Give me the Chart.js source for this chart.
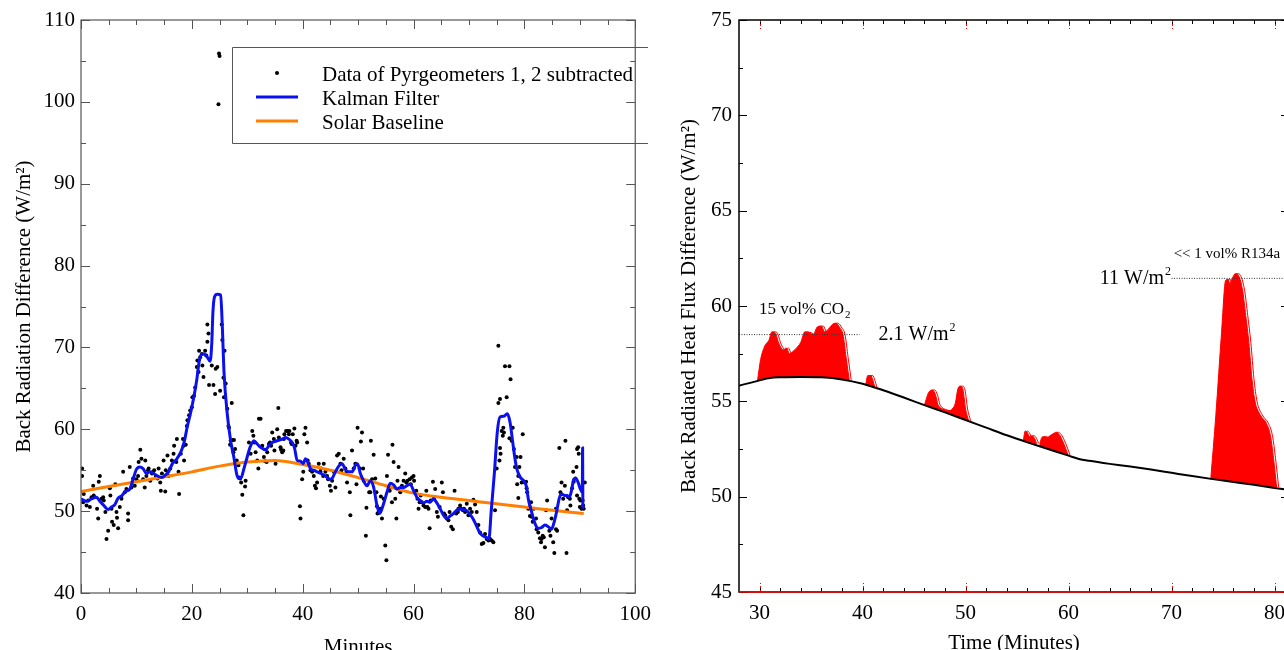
<!DOCTYPE html>
<html>
<head>
<meta charset="utf-8">
<title>Back radiation difference</title>
<script src="https://cdn.jsdelivr.net/npm/chart.js@4.4.1/dist/chart.umd.min.js"></script>
<style>
  html, body { margin: 0; padding: 0; background: #fff; overflow: hidden; }
  #leftBox { position: absolute; left: 0; top: 0; width: 660px; height: 670px; }
  #rightBox { position: absolute; left: 660px; top: 0; width: 640px; height: 670px; }
</style>
</head>
<body>
<div id="leftBox"><canvas id="radiationChart"></canvas></div>
<div id="rightBox"><canvas id="fluxChart"></canvas></div>
<script>
// ---- left panel: pyrgeometer difference ----
const minutesTicks = [0, 20, 40, 60, 80, 100];
const minutesMinor = [5, 10, 15, 25, 30, 35, 45, 50, 55, 65, 70, 75, 85, 90, 95];
const radiationTicks = [40, 50, 60, 70, 80, 90, 100, 110];
const radiationMinor = [45, 55, 65, 75, 85, 95, 105];

// raw points [minute, W/m2]
const pyrgeoPoints = [
  [0.2,55.2],[0.2,54.3],[0.5,52.1],[0.4,51.1],[1.0,50.7],[1.3,51.3],[1.6,50.5],[1.9,51.7],[2.2,53.1],[2.3,51.9],
  [2.9,50.3],[3.1,49.1],[3.2,53.6],[3.4,54.3],[3.7,51.5],[4.0,51.7],[4.1,51.3],[4.4,49.9],[4.6,46.6],[4.9,47.6],
  [5.2,52.8],[5.3,51.9],[5.5,50.3],[5.6,48.7],[5.9,48.3],[6.2,53.3],[6.4,49.9],[6.5,49.2],[6.7,47.9],[7.0,50.5],
  [7.3,51.5],[7.6,54.8],[7.9,52.3],[8.2,52.7],[8.5,49.7],[8.5,48.9],[8.8,55.4],[9.1,52.9],[9.2,53.5],[9.4,54.0],
  [9.7,53.1],[10.0,53.9],[10.3,54.3],[10.4,56.0],[10.7,57.5],[10.9,56.4],[11.2,53.9],[11.5,52.9],[11.6,56.2],[11.8,54.3],
  [12.1,55.0],[12.2,55.2],[12.5,53.7],[12.8,54.6],[13.0,54.8],[13.2,55.0],[13.5,54.3],[13.8,54.0],[14.0,55.2],[14.3,53.5],
  [14.4,52.5],[14.6,54.6],[14.9,56.2],[15.2,52.4],[15.3,55.0],[15.6,56.8],[15.8,54.3],[16.1,55.2],[16.4,56.2],[16.7,57.0],
  [16.8,58.0],[17.2,56.0],[17.3,58.8],[17.6,54.8],[17.7,52.1],[18.0,57.0],[18.4,58.8],[18.5,58.0],[18.6,56.2],[18.9,58.1],
  [19.1,60.4],[19.2,61.1],[19.5,61.7],[19.7,62.3],[20.0,62.7],[20.1,63.9],[20.4,64.1],[20.6,65.1],[20.9,67.6],[21.0,68.4],
  [21.2,67.0],[21.3,69.6],[21.5,68.8],[21.8,69.2],[21.9,67.8],[22.1,66.4],[22.4,69.6],[22.6,69.0],[22.8,70.7],[23.0,71.7],
  [23.1,65.4],[22.8,72.8],[23.6,67.8],[23.9,65.4],[24.2,64.3],[24.3,67.4],[24.9,105.9],[25.0,105.6],[24.8,99.7],
  [24.6,67.6],[25.4,72.8],[25.5,70.9],[25.9,69.6],[25.7,66.3],[26.1,65.6],[25.1,64.7],[25.8,63.9],[26.4,62.5],[27.2,63.2],
  [26.6,60.4],[26.7,60.2],[26.9,58.1],[27.0,58.6],[27.3,58.7],[27.6,58.7],[27.5,57.2],[27.8,57.6],[28.1,56.2],[28.4,55.6],
  [28.5,54.1],[28.7,54.0],[28.9,53.5],[29.1,52.0],[29.3,49.5],[29.7,53.7],[29.6,53.0],[30.3,58.4],[30.6,57.0],[30.9,59.8],
  [31.1,59.2],[31.3,58.4],[31.5,57.2],[31.8,56.2],[32.0,55.2],[32.1,61.3],[32.4,61.3],[32.7,58.0],[33.0,56.6],[33.2,56.1],
  [33.5,56.0],[33.6,57.2],[33.9,58.2],[34.1,58.4],[34.3,58.0],[34.5,59.6],[34.8,58.8],[34.9,57.4],[35.1,55.8],[35.4,60.0],
  [35.6,62.6],[35.7,59.0],[36.0,57.8],[36.1,57.5],[36.3,57.2],[36.5,57.4],[36.6,58.8],[36.7,59.4],[37.0,59.8],[37.3,59.8],
  [37.5,59.4],[37.6,59.8],[37.9,58.4],[38.0,58.2],[38.2,59.4],[38.5,60.1],[38.7,58.0],[38.9,58.6],[39.0,58.4],[39.5,50.6],
  [39.6,49.1],[40.1,54.8],[39.9,53.9],[40.3,59.4],[40.5,60.2],[40.8,58.4],[40.9,56.2],[41.1,55.8],[41.4,55.0],[41.7,54.8],
  [42.0,54.3],[42.2,53.1],[42.4,52.8],[42.6,53.5],[42.9,55.8],[43.2,54.8],[43.3,55.2],[43.7,54.3],[43.8,55.8],[44.1,54.8],
  [44.4,54.3],[44.6,53.9],[44.9,53.1],[45.1,52.5],[45.3,53.7],[45.6,54.8],[45.9,52.9],[46.2,56.8],[46.5,57.0],[46.8,55.8],
  [47.0,55.0],[47.4,56.4],[47.7,55.2],[47.9,54.8],[48.0,53.5],[48.5,52.3],[48.6,49.5],[48.9,57.4],[49.2,55.2],[49.5,55.8],
  [49.7,53.3],[49.9,60.2],[50.7,59.6],[50.5,58.5],[50.3,55.2],[50.9,55.2],[51.0,53.7],[51.5,50.4],[51.4,47.0],[52.0,52.3],
  [52.2,52.3],[52.3,58.6],[52.5,53.9],[52.8,56.9],[53.1,54.0],[53.3,52.3],[53.4,50.6],[53.5,49.7],[53.7,49.9],[54.0,50.3],
  [54.1,51.8],[54.3,49.1],[54.6,51.5],[54.9,45.8],[55.1,44.0],[55.2,54.3],[55.4,56.9],[55.7,52.5],[55.8,52.9],[56.1,51.1],
  [56.2,58.1],[56.4,56.0],[56.7,51.5],[56.9,49.1],[57.1,53.7],[57.3,55.4],[57.6,52.3],[57.9,53.1],[58.2,53.7],[58.5,54.6],
  [58.7,53.5],[58.9,53.7],[59.3,53.9],[59.5,53.3],[59.7,54.1],[60.0,54.3],[60.1,53.7],[60.5,52.5],[60.7,51.5],[60.9,50.3],
  [61.1,51.1],[61.3,51.9],[61.5,51.1],[61.8,50.7],[62.1,50.5],[62.3,52.5],[62.5,50.5],[62.7,50.3],[62.9,47.9],[63.1,51.3],
  [63.5,53.6],[63.7,51.5],[63.9,52.7],[64.2,49.9],[64.4,49.3],[64.7,50.5],[65.1,53.5],[65.3,52.3],[65.5,49.7],[65.7,49.5],
  [66.0,49.1],[66.3,48.9],[66.5,49.9],[66.8,48.1],[67.1,47.8],[67.4,52.5],[67.7,49.7],[68.0,49.9],[68.1,50.3],[68.4,50.7],
  [68.6,50.3],[68.9,50.1],[69.1,50.3],[69.3,49.9],[69.6,50.9],[69.9,49.5],[70.2,50.3],[70.5,49.9],[70.8,51.4],[71.1,50.8],
  [71.4,49.9],[71.7,48.3],[72.0,47.4],[72.3,46.0],[72.6,46.1],[72.9,47.2],[73.2,46.6],[73.5,46.4],[73.8,46.6],[74.1,46.4],
  [74.4,46.2],[74.7,50.1],[75.0,55.2],[75.3,70.2],[75.3,63.2],[75.6,63.7],[76.5,67.7],[77.3,67.7],[77.5,66.1],[76.8,63.9],
  [75.9,59.8],[76.3,59.6],[76.2,60.2],[76.1,59.2],[75.6,57.7],[75.7,57.0],[75.5,56.2],[77.3,58.9],[77.7,58.6],[77.9,60.2],
  [78.1,57.6],[78.3,55.4],[78.6,56.6],[78.9,54.3],[78.7,53.3],[79.1,55.4],[78.9,51.6],[79.3,56.6],[79.7,59.4],[79.5,53.5],
  [79.8,53.6],[80.1,53.5],[80.3,53.6],[80.4,52.8],[80.5,52.3],[80.7,50.3],[81.0,50.5],[81.2,51.1],[81.0,49.4],[81.3,49.3],
  [81.5,48.7],[81.7,50.3],[82.1,49.1],[82.2,47.8],[82.5,47.4],[82.8,46.7],[83.0,46.2],[83.1,46.6],[83.3,47.0],[83.5,46.8],
  [83.7,45.6],[83.9,50.1],[84.1,51.3],[84.5,47.6],[84.7,47.0],[84.9,49.1],[85.2,46.2],[85.4,44.9],[85.7,47.8],[85.9,47.6],
  [85.7,50.3],[86.3,57.7],[86.5,52.3],[86.7,53.5],[87.0,51.5],[87.3,53.1],[87.4,58.6],[87.6,44.9],[87.7,50.1],[87.9,51.7],
  [88.2,51.5],[88.3,50.7],[88.6,52.8],[88.8,54.8],[88.9,53.6],[89.2,54.0],[89.4,55.4],[89.5,57.6],[89.7,57.8],[89.8,57.0],
  [89.5,51.9],[89.9,51.5],[90.0,50.5],[90.1,51.3],[90.3,50.3],[90.5,51.3],[90.6,50.7],[90.9,53.5],[90.7,50.3]
];

const kalmanMinutes = [
  0, 1.0, 1.9, 2.8, 3.4, 4.1, 4.9, 5.5, 6.1, 6.7, 7.4, 8.0, 8.8, 9.4, 10.0, 10.6, 11.2, 11.8, 12.4, 13.1,
  13.8, 14.6, 15.2, 15.8, 16.5, 17.3, 18.0, 18.6, 19.2, 19.8, 20.4, 20.9, 21.3, 21.8, 22.2, 22.8, 23.3, 23.6, 23.8, 24.1,
  24.6, 25.2, 25.5, 25.8, 26.4, 27.0, 27.6, 28.1, 28.5, 28.9, 29.4, 29.9, 30.5, 31.2, 31.8, 32.4, 33.3, 33.9, 34.5, 35.4,
  36.3, 36.9, 37.5, 38.1, 38.5, 39.0, 39.6, 40.1, 40.5, 40.9, 41.4, 42.0, 42.6, 43.3, 44.1, 44.9, 45.3, 45.9, 46.5, 47.1,
  47.7, 48.3, 48.9, 49.5, 49.9, 50.4, 51.0, 51.6, 52.2, 52.8, 53.4, 53.9, 54.5, 55.2, 55.8, 56.4, 57.0, 57.6, 58.2, 58.8,
  59.4, 60.0, 60.6, 61.2, 61.8, 62.4, 63.0, 63.6, 64.2, 64.8, 65.4, 66.0, 66.6, 67.2, 67.8, 68.4, 68.9, 69.5, 70.1, 70.7,
  71.3, 71.9, 72.5, 73.1, 73.6, 74.0, 74.6, 75.1, 75.6, 76.3, 76.9, 77.4, 77.9, 78.3, 78.7, 79.3, 79.9, 80.4, 80.7, 81.3,
  81.9, 82.5, 83.1, 83.7, 84.3, 84.9, 85.3, 85.8, 86.3, 86.7, 87.3, 87.7, 88.1, 88.5, 88.9, 89.3, 89.7, 90.1, 90.45, 90.5,
  90.55
];
const kalmanValues = [
  51.5, 51.2, 51.5, 51.7, 51.2, 50.7, 50.2, 50.5, 50.8, 51.6, 51.9, 52.4, 52.7, 53.9, 55.1, 55.4, 55.2, 54.6, 54.8, 54.6,
  54.3, 54.1, 54.4, 54.8, 55.8, 56.4, 57.2, 58.4, 60.4, 62.1, 64.1, 66.1, 68.2, 69.2, 69.2, 68.8, 68.3, 70.6, 74.3, 76.2,
  76.5, 76.4, 72.5, 67.0, 61.8, 58.6, 56.5, 54.5, 54.0, 54.1, 55.2, 56.4, 57.8, 58.6, 58.2, 57.8, 57.5, 58.0, 58.4, 58.6,
  58.8, 59.0, 58.8, 58.4, 57.8, 56.2, 56.1, 55.8, 56.4, 56.0, 55.2, 55.0, 54.8, 54.6, 54.3, 53.9, 54.0, 54.8, 55.5, 55.8,
  55.1, 54.8, 54.8, 55.6, 55.8, 54.6, 53.7, 53.1, 53.7, 52.9, 50.7, 49.7, 50.7, 52.3, 53.4, 53.2, 52.7, 52.9, 52.9, 53.1,
  53.3, 52.5, 51.7, 51.3, 51.0, 51.2, 51.1, 51.5, 51.0, 50.3, 49.5, 49.1, 49.4, 49.7, 50.1, 50.3, 50.2, 50.1, 49.7, 49.1,
  48.3, 47.4, 47.0, 46.8, 46.6, 49.9, 54.8, 59.6, 61.5, 61.6, 61.9, 60.9, 58.4, 56.4, 55.0, 54.1, 53.7, 52.9, 51.5, 49.9,
  48.5, 47.9, 48.0, 48.3, 48.1, 47.8, 48.5, 49.9, 51.6, 52.1, 51.9, 51.9, 51.7, 52.5, 53.9, 54.0, 53.5, 52.7, 52.3, 57.7,
  50.3
];

const solarMinutes = [0, 5, 10, 15, 20, 25, 30, 35, 40, 45, 50, 55, 60, 65, 70, 75, 80, 85, 90.7];
const solarValues = [52.4, 53.0, 53.6, 54.2, 54.8, 55.5, 56.0, 56.2, 55.7, 55.0, 54.1, 53.1, 52.2, 51.7, 51.3, 50.9, 50.5, 50.1, 49.7];

// ---- right panel: heat flux difference ----
const timeTicks = [30, 40, 50, 60, 70, 80];
const timeMinor = [30, 32, 34, 36, 38, 40, 42, 44, 46, 48, 50, 52, 54, 56, 58, 60, 62, 64, 66, 68, 70, 72, 74, 76, 78, 80];
const fluxTicks = [45, 50, 55, 60, 65, 70, 75];
const fluxMinor = [47.5, 52.5, 57.5, 62.5, 67.5, 72.5];

const baselineTime = [28, 30, 31, 32, 34, 36, 38, 40, 42, 44, 46, 48, 50, 52, 54, 56, 58, 60, 61, 62, 64, 66, 68, 70, 72, 74, 76, 78, 80, 81.4];
const baselineFlux = [55.82, 56.1, 56.22, 56.26, 56.28, 56.26, 56.15, 55.92, 55.58, 55.2, 54.8, 54.42, 54.02, 53.62, 53.22, 52.85, 52.5, 52.15, 51.98, 51.88, 51.72, 51.58, 51.42, 51.25, 51.08, 50.92, 50.77, 50.62, 50.46, 50.36];

const co2Time = [29.8, 30.1, 30.5, 30.9, 31.2, 31.5, 31.9, 32.3, 32.6, 32.9, 33.2, 33.5, 34.0, 34.4, 34.8, 35.2, 35.6, 36.0, 36.3, 36.7, 37.1, 37.4, 37.8, 38.1, 38.4, 38.7];
const co2Flux = [56.1, 57.2, 57.9, 58.2, 58.65, 58.6, 58.0, 57.7, 57.8, 57.5, 57.6, 57.75, 58.1, 58.65, 58.6, 58.5, 58.9, 58.95, 58.65, 58.8, 59.05, 59.1, 58.85, 58.5, 57.3, 56.12];
const bump41Time = [40.3, 40.5, 40.8, 41.0, 41.2];
const bump41Flux = [55.87, 56.35, 56.35, 56.1, 55.72];
const bump47Time = [46.0, 46.4, 46.8, 47.1, 47.3, 47.6, 48.0, 48.4, 48.7, 49.0, 49.25, 49.5, 49.75, 50.0, 50.3];
const bump47Flux = [54.8, 55.45, 55.6, 55.3, 54.85, 54.65, 54.55, 54.5, 54.6, 54.9, 55.65, 55.8, 55.6, 54.6, 53.98];
const bump56Time = [55.6, 55.8, 56.0, 56.2, 56.45, 56.7, 56.9];
const bump56Flux = [52.95, 53.45, 53.35, 53.15, 53.2, 53.05, 52.78];
const bump58Time = [57.2, 57.35, 57.6, 57.9, 58.2, 58.5, 58.8, 59.1, 59.4, 59.7, 59.95];
const bump58Flux = [52.72, 53.05, 53.15, 53.1, 53.2, 53.3, 53.38, 53.25, 52.95, 52.55, 52.17];
const r134Time = [73.8, 74.3, 74.85, 75.25, 75.5, 75.65, 75.85, 76.2, 76.5, 76.9, 77.2, 77.5, 77.8, 78.1, 78.6, 79.2, 79.6, 79.9, 80.2];
const r134Flux = [50.9, 54.3, 58.6, 61.35, 61.4, 61.15, 61.4, 61.7, 61.6, 60.8, 59.5, 58.1, 56.2, 55.0, 54.3, 53.85, 53.2, 52.0, 50.5];

const co2LevelTime = [28, 39.7];
const co2LevelFlux = [58.5, 58.5];
const r134LevelTime = [70, 81.4];
const r134LevelFlux = [61.45, 61.45];

const serif = '"Liberation Serif", "Times New Roman", serif';
const pairs = (xs, ys) => xs.map((x, i) => ({x: x, y: ys[i]}));

// inward tick marks + frame, drawn on top of the data
function frameTicks(cfg) {
  return {
    id: 'frameTicks',
    afterDatasetsDraw(chart) {
      const {ctx, chartArea: a} = chart;
      const xs = chart.scales.x, ys = chart.scales.y;
      const mark = (x1, y1, x2, y2) => { ctx.beginPath(); ctx.moveTo(x1, y1); ctx.lineTo(x2, y2); ctx.stroke(); };
      ctx.save();
      ctx.lineWidth = 1;
      ctx.strokeStyle = cfg.tickColor;
      [[cfg.xMajor, cfg.majorLen], [cfg.xMinor, cfg.xMinorLen]].forEach(([vals, len]) => vals.forEach(v => {
        const px = Math.round(xs.getPixelForValue(v)) + 0.5;
        mark(px, a.bottom, px, a.bottom - len);
        mark(px, a.top, px, a.top + len);
      }));
      [[cfg.yMajor, cfg.majorLen], [cfg.yMinor, cfg.minorLen]].forEach(([vals, len]) => vals.forEach(v => {
        const py = Math.round(ys.getPixelForValue(v)) + 0.5;
        mark(a.left, py, a.left + len, py);
        mark(a.right, py, a.right - len, py);
      }));
      if (cfg.accent) {
        ctx.strokeStyle = cfg.accent;
        ctx.setLineDash([2, 2]);
        cfg.xAccent.forEach(v => {
          const px = Math.round(xs.getPixelForValue(v)) + 0.5;
          mark(px, a.top, px, a.top + 9);
          mark(px, a.bottom, px, a.bottom - 9);
        });
        ctx.setLineDash([]);
      }
      ctx.lineWidth = cfg.frameWidth;
      ctx.strokeStyle = cfg.frameColor;
      ctx.strokeRect(a.left, a.top, a.right - a.left, a.bottom - a.top);
      if (cfg.bottomColor) {
        ctx.strokeStyle = cfg.bottomColor;
        mark(a.left, a.bottom, a.right, a.bottom);
      }
      ctx.restore();
    }
  };
}

// legend box of the left panel
const boxLegend = {
  id: 'boxLegend',
  afterDraw(chart) {
    const ctx = chart.ctx;
    const box = {left: 232.5, top: 47.5, right: 648, bottom: 143.5, symbolX: 277, textX: 322, firstRow: 73, rowGap: 24};
    ctx.save();
    ctx.strokeStyle = '#555';
    ctx.lineWidth = 1;
    ctx.beginPath();
    ctx.moveTo(box.right, box.top);
    ctx.lineTo(box.left, box.top);
    ctx.lineTo(box.left, box.bottom);
    ctx.lineTo(box.right, box.bottom);
    ctx.stroke();
    ctx.font = '21px ' + serif;
    ctx.textBaseline = 'middle';
    ctx.fillStyle = '#000';
    chart.data.datasets.forEach((ds, i) => {
      const yy = box.firstRow + i * box.rowGap;
      if (ds.showLine) {
        ctx.strokeStyle = ds.borderColor;
        ctx.lineWidth = 3;
        ctx.beginPath();
        ctx.moveTo(box.symbolX - 21, yy);
        ctx.lineTo(box.symbolX + 21, yy);
        ctx.stroke();
      } else {
        ctx.fillStyle = ds.backgroundColor;
        ctx.beginPath();
        ctx.arc(box.symbolX, yy, 2, 0, Math.PI * 2);
        ctx.fill();
        ctx.fillStyle = '#000';
      }
      ctx.fillText(ds.label, box.textX, yy + 2);
    });
    ctx.restore();
  }
};

// the filled peaks carry a faint shifted red/white edge on their falling side
const peakEdge = {
  id: 'peakEdge',
  beforeDatasetsDraw(chart) {
    const {ctx, chartArea: a} = chart;
    ctx.save();
    ctx.beginPath();
    ctx.rect(a.left, a.top, a.right - a.left, a.bottom - a.top);
    ctx.clip();
    ctx.translate(2, 0);
    chart.data.datasets.forEach((ds, i) => {
      if (!ds.fill) return;
      const line = chart.getDatasetMeta(i).dataset;
      line.updateControlPoints(a, 'x');
      ctx.beginPath();
      line.path(ctx);
      ctx.strokeStyle = '#fff';
      ctx.lineWidth = 3;
      ctx.stroke();
      ctx.strokeStyle = '#ff0000';
      ctx.lineWidth = 1;
      ctx.stroke();
    });
    ctx.restore();
  }
};

// text notes of the right panel, placed in data units
const fluxNotes = [
  {text: '15 vol% CO', script: '2', kind: 'sub', x: 29.95, y: 59.8, size: 17, align: 'left'},
  {text: '2.1 W/m', script: '2', kind: 'sup', x: 41.55, y: 58.5, size: 20, align: 'left'},
  {text: '<< 1 vol% R134a', x: 70.2, y: 62.72, size: 15, align: 'left'},
  {text: '11 W/m', script: '2', kind: 'sup', x: 69.85, y: 61.45, size: 20, align: 'right'}
];
const notePlugin = {
  id: 'notePlugin',
  afterDatasetsDraw(chart) {
    const {ctx, scales: {x, y}} = chart;
    ctx.save();
    ctx.fillStyle = '#000';
    ctx.textBaseline = 'middle';
    ctx.textAlign = 'left';
    fluxNotes.forEach(n => {
      const small = Math.round(n.size * 0.62) + 'px ' + serif;
      const big = n.size + 'px ' + serif;
      ctx.font = big;
      const w = ctx.measureText(n.text).width;
      ctx.font = small;
      const ws = n.script ? ctx.measureText(n.script).width : 0;
      let px = x.getPixelForValue(n.x);
      if (n.align === 'right') px -= w + ws;
      const py = y.getPixelForValue(n.y);
      ctx.font = big;
      ctx.fillText(n.text, px, py);
      if (n.script) {
        ctx.font = small;
        ctx.fillText(n.script, px + w + 1, py + (n.kind === 'sup' ? -n.size * 0.33 : n.size * 0.3));
      }
    });
    ctx.restore();
  }
};

function axisStyle(ticks, min, max, title, fitSize, isX, labelPad, titlePad) {
  return {
    type: 'linear', min: min, max: max,
    afterBuildTicks: s => { s.ticks = ticks.map(v => ({value: v})); },
    afterFit: s => { if (isX) { s.height = fitSize; } else { s.width = fitSize; } },
    grid: {display: false, drawTicks: false},
    border: {display: false},
    ticks: {color: '#000', padding: labelPad, autoSkip: false, maxRotation: 0, font: {family: serif, size: 21}},
    title: {display: true, text: title, color: '#000', font: {family: serif, size: 21}, padding: titlePad}
  };
}

new Chart(document.getElementById('radiationChart'), {
  type: 'scatter',
  data: {
    datasets: [
      {
        label: 'Data of Pyrgeometers 1, 2 subtracted',
        data: pyrgeoPoints.map(p => ({x: p[0], y: p[1]})),
        showLine: false, pointRadius: 2, pointBorderWidth: 0,
        backgroundColor: '#000', borderColor: '#000', order: 3
      },
      {
        label: 'Kalman Filter',
        data: pairs(kalmanMinutes, kalmanValues),
        showLine: true, borderColor: '#0a10f0', borderWidth: 3, pointRadius: 0,
        cubicInterpolationMode: 'monotone', order: 1
      },
      {
        label: 'Solar Baseline',
        data: pairs(solarMinutes, solarValues),
        showLine: true, borderColor: '#ff8000', borderWidth: 3, pointRadius: 0,
        cubicInterpolationMode: 'monotone', order: 2
      }
    ]
  },
  options: {
    responsive: true, maintainAspectRatio: false, animation: false,
    layout: {padding: {top: 20, right: 23, left: 0, bottom: 0}},
    plugins: {legend: {display: false}, tooltip: {enabled: false}},
    scales: {
      x: axisStyle(minutesTicks, 0, 100, 'Minutes', 77, true, 9, {bottom: 10}),
      y: axisStyle(radiationTicks, 40, 110, 'Back Radiation Difference (W/m\u00b2)', 81, false, 6, {top: 12})
    }
  },
  plugins: [frameTicks({
    xMajor: minutesTicks, xMinor: minutesMinor, yMajor: radiationTicks, yMinor: radiationMinor,
    majorLen: 9, minorLen: 5, xMinorLen: 5, tickColor: '#555', frameColor: '#555', frameWidth: 1.2
  }), boxLegend]
});

const redArea = (label, xs, ys) => ({
  label: label, data: pairs(xs, ys), showLine: true, pointRadius: 0,
  borderColor: '#ff0000', borderWidth: 1, cubicInterpolationMode: 'monotone',
  fill: {target: 0, above: '#ff0000', below: 'rgba(0,0,0,0)'}, order: 2
});

new Chart(document.getElementById('fluxChart'), {
  type: 'scatter',
  data: {
    datasets: [
      {
        label: 'Baseline', data: pairs(baselineTime, baselineFlux), showLine: true, pointRadius: 0,
        borderColor: '#000', borderWidth: 2, cubicInterpolationMode: 'monotone', order: 0
      },
      redArea('CO2', co2Time, co2Flux),
      redArea('bump 41', bump41Time, bump41Flux),
      redArea('bump 47', bump47Time, bump47Flux),
      redArea('bump 56', bump56Time, bump56Flux),
      redArea('bump 58', bump58Time, bump58Flux),
      redArea('R134a', r134Time, r134Flux),
      {
        label: 'CO2 level', data: pairs(co2LevelTime, co2LevelFlux), showLine: true, pointRadius: 0,
        borderColor: '#333', borderWidth: 1, borderDash: [1, 1.5], order: 0
      },
      {
        label: 'R134a level', data: pairs(r134LevelTime, r134LevelFlux), showLine: true, pointRadius: 0,
        borderColor: '#333', borderWidth: 1, borderDash: [1, 1.5], order: 0
      }
    ]
  },
  options: {
    responsive: true, maintainAspectRatio: false, animation: false,
    layout: {padding: {top: 20, right: 11, left: 0, bottom: 0}},
    plugins: {legend: {display: false}, tooltip: {enabled: false}},
    scales: {
      x: axisStyle(timeTicks, 28, 81.4, 'Time (Minutes)', 78, true, 9, {bottom: 14}),
      y: axisStyle(fluxTicks, 45, 75, 'Back Radiated Heat Flux Difference (W/m\u00b2)', 79, false, 7, {top: 17})
    }
  },
  plugins: [peakEdge, frameTicks({
    xMajor: [], xMinor: timeMinor, yMajor: fluxTicks, yMinor: fluxMinor,
    majorLen: 8, minorLen: 4, xMinorLen: 4, tickColor: '#000', frameColor: '#000', frameWidth: 1.5,
    accent: '#ff0000', xAccent: timeTicks, bottomColor: '#ff0000'
  }), notePlugin]
});
</script>
</body>
</html>
